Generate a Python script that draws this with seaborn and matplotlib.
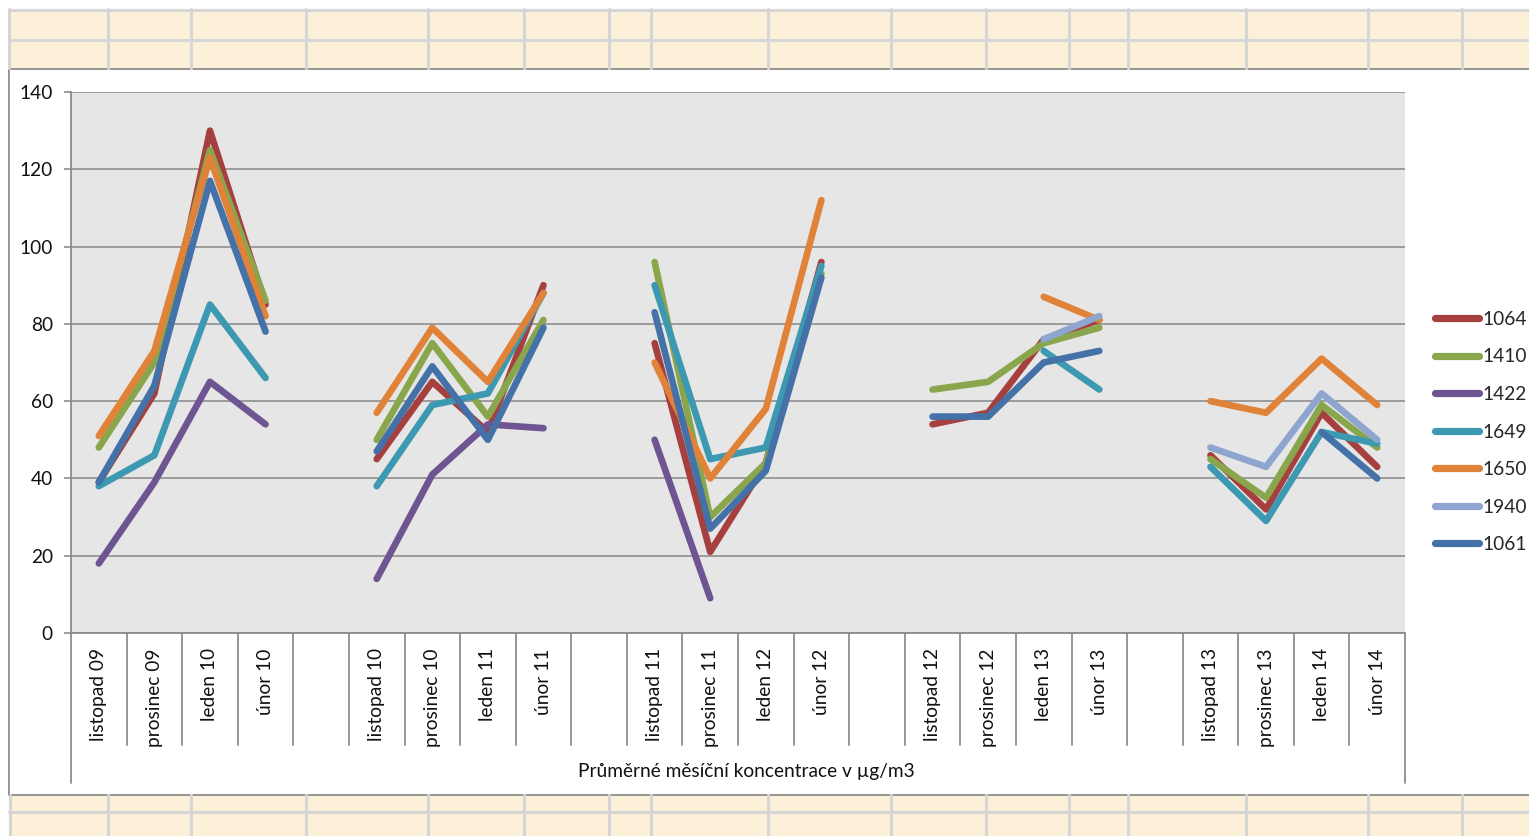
import numpy as np
import pandas as pd
import matplotlib
matplotlib.use("Agg")
import matplotlib.pyplot as plt
import seaborn as sns
from matplotlib.patches import Rectangle

nan = np.nan

# Category axis: winter months, blank slots separate the seasons
categories = [
    "listopad 09", "prosinec 09", "leden 10", "únor 10", "",
    "listopad 10", "prosinec 10", "leden 11", "únor 11", "",
    "listopad 11", "prosinec 11", "leden 12", "únor 12", "",
    "listopad 12", "prosinec 12", "leden 13", "únor 13", "",
    "listopad 13", "prosinec 13", "leden 14", "únor 14",
]

# Monthly mean concentrations per station
s1064 = [39, 62, 130, 85, nan, 45, 65, 52, 90, nan, 75, 21, 44, 96, nan,
         54, 57, 76, 81, nan, 46, 32, 57, 43]
s1410 = [48, 70, 125, 86, nan, 50, 75, 56, 81, nan, 96, 30, 44, 93, nan,
         63, 65, 75, 79, nan, 45, 35, 59, 48]
s1422 = [18, 39, 65, 54, nan, 14, 41, 54, 53, nan, 50, 9, nan, nan, nan,
         nan, nan, nan, nan, nan, nan, nan, nan, nan]
s1649 = [38, 46, 85, 66, nan, 38, 59, 62, 88, nan, 90, 45, 48, 95, nan,
         nan, nan, 73, 63, nan, 43, 29, 52, 49]
s1650 = [51, 73, 123, 82, nan, 57, 79, 65, 88, nan, 70, 40, 58, 112, nan,
         nan, nan, 87, 81, nan, 60, 57, 71, 59]
s1940 = [nan, nan, nan, nan, nan, nan, nan, nan, nan, nan, nan, nan, nan, nan, nan,
         nan, nan, 76, 82, nan, 48, 43, 62, 50]
s1061 = [39, 64, 117, 78, nan, 47, 69, 50, 79, nan, 83, 27, 42, 92, nan,
         56, 56, 70, 73, nan, nan, nan, 52, 40]

station_names = ["1064", "1410", "1422", "1649", "1650", "1940", "1061"]
station_values = [s1064, s1410, s1422, s1649, s1650, s1940, s1061]
station_colors = ["#A6403E", "#89A64C", "#6E5591", "#3D99B1", "#E08237", "#8EA6CF", "#4471A8"]

y_ticks = [0, 20, 40, 60, 80, 100, 120, 140]
axis_title = "Průměrné měsíční koncentrace v µg/m3"

# Long-form table; every unbroken run of values gets its own unit so gaps stay open
rows = []
for name, vals in zip(station_names, station_values):
    seg = 0
    prev_ok = False
    for i, v in enumerate(vals):
        ok = not np.isnan(v)
        if ok and not prev_ok:
            seg += 1
        if ok:
            rows.append({"pos": i, "value": v, "station": name, "segment": f"{name}_{seg}"})
        prev_ok = ok
df = pd.DataFrame(rows)

sns.set_theme(style="white")
plt.rcParams["font.family"] = ["Lato", "DejaVu Sans"]
FS = 13.8

W, H = 1529, 836
fig = plt.figure(figsize=(W / 100, H / 100), dpi=100)

# Worksheet backdrop drawn in pixel coordinates
bg = fig.add_axes([0, 0, 1, 1])
bg.set_xlim(0, W)
bg.set_ylim(H, 0)
bg.axis("off")
beige = "#FCF0D9"
cell_line = "#D6D6D6"
bg.add_patch(Rectangle((9, 9), W, 60, facecolor=beige, edgecolor="none"))
bg.add_patch(Rectangle((9, 795), W, 45, facecolor=beige, edgecolor="none"))
col_edges = [108, 191, 306, 428, 524, 609, 651, 768, 891, 986, 1069, 1128, 1246, 1368, 1462]
for x in col_edges:
    bg.plot([x, x], [9, 68], color=cell_line, lw=2.2)
    bg.plot([x, x], [795, 836], color=cell_line, lw=2.2)
bg.plot([9, 9], [9, 68], color=cell_line, lw=2.2)
bg.plot([10, 10], [795, 836], color=cell_line, lw=2.2)
for y in [9.5, 39.5]:
    bg.plot([9, W], [y, y], color=cell_line, lw=2.2)
bg.plot([9, W], [812, 812], color=cell_line, lw=2.2)
# Chart frame
bg.add_patch(Rectangle((9, 68.5), W, 726.5, facecolor="white", edgecolor="#8C8C8C", lw=1.3))
bg.text(746, 772, axis_title, ha="center", va="center", fontsize=FS, color="#111111")

# Plot area
x0, x1, ytop, ybot = 71, 1405, 92, 633
ax = fig.add_axes([x0 / W, 1 - ybot / H, (x1 - x0) / W, (ybot - ytop) / H])
ax.set_facecolor("#E6E6E6")

sns.lineplot(
    data=df, x="pos", y="value", hue="station", units="segment", estimator=None,
    hue_order=station_names, palette=dict(zip(station_names, station_colors)),
    linewidth=4.8, ax=ax, sort=False,
    solid_capstyle="round", solid_joinstyle="round",
)

n = len(categories)
ax.set_xlim(-0.5, n - 0.5)
ax.set_ylim(0, 140)
ax.set_yticks(y_ticks)
ax.set_yticklabels([str(t) for t in y_ticks], fontsize=FS, color="#111111")
ax.yaxis.grid(True, color="#969696", lw=1.3)
ax.set_axisbelow(True)
ax.tick_params(axis="y", which="major", left=True, length=5, width=1.2, color="#8C8C8C", pad=8)
ax.set_xticks(range(n))
ax.set_xticklabels(categories, rotation=90, fontsize=FS, color="#111111")
ax.tick_params(axis="x", bottom=False, length=0, pad=11)
ax.set_xlabel("")
ax.set_ylabel("")
for side in ["top", "right"]:
    ax.spines[side].set_visible(False)
ax.spines["left"].set_color("#8C8C8C")
ax.spines["left"].set_linewidth(1.3)
ax.spines["bottom"].set_color("#8C8C8C")
ax.spines["bottom"].set_linewidth(1.3)

# Category separators below the axis
sep_low = -(745 - ybot) / (ybot - ytop)
outer_low = -(783 - ybot) / (ybot - ytop)
trans = ax.get_xaxis_transform()
for k in range(n + 1):
    xb = k - 0.5
    low = outer_low if k in (0, n) else sep_low
    ax.plot([xb, xb], [0, low], transform=trans, color="#8C8C8C", lw=1.3, clip_on=False)

# Legend at right
leg = ax.legend(
    loc="center left", bbox_to_anchor=(1435 / W, 1 - 432 / H), bbox_transform=fig.transFigure,
    frameon=False, fontsize=FS, handlelength=2.3, handletextpad=0.15,
    labelspacing=1.07, borderpad=0, borderaxespad=0, title=None,
)
for line in leg.get_lines():
    line.set_linewidth(5.2)
    line.set_solid_capstyle("round")

fig.savefig("out.png", dpi=100)
